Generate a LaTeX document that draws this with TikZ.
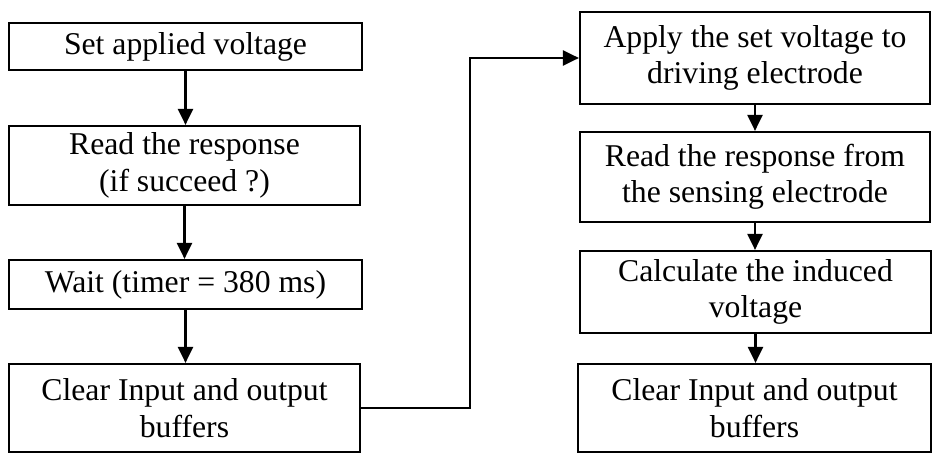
\documentclass[tikz,border=0pt]{standalone}
\usepackage{fontspec}
\setmainfont{Liberation Serif}
\usetikzlibrary{arrows.meta}
\begin{document}
\begin{tikzpicture}[x=1pt,y=-1pt,
  stepbox/.style={draw, line width=2.2pt, rectangle, align=center, inner sep=0pt,
    font=\fontsize{31.7}{36.5}\selectfont},
  flow/.style={line width=2.2pt, -{Triangle[length=16pt,width=15pt]}}]
\useasboundingbox (0,0) rectangle (932,454);
% left column
\node[stepbox, minimum width=353pt, minimum height=47pt] (l1) at (185.5,46.5) {Set applied voltage};
\node[stepbox, minimum width=351pt, minimum height=79pt] (l2) at (184.5,165.5) {Read the response\\(if succeed ?)};
\node[stepbox, minimum width=353pt, minimum height=49pt] (l3) at (185.5,284.5) {Wait (timer = 380 ms)};
\node[stepbox, minimum width=351pt, minimum height=88pt] (l4) at (184.5,408) {Clear Input and output\\buffers};
% right column
\node[stepbox, minimum width=350pt, minimum height=92pt] (r1) at (755,58) {Apply the set voltage to\\driving electrode};
\node[stepbox, minimum width=350pt, minimum height=90pt] (r2) at (755,177) {Read the response from\\the sensing electrode};
\node[stepbox, minimum width=351pt, minimum height=82pt] (r3) at (755.5,292) {Calculate the induced\\voltage};
\node[stepbox, minimum width=353pt, minimum height=88pt] (r4) at (754.5,408) {Clear Input and output\\buffers};
% vertical connectors, kept straight down from each box
\draw[flow] (l1.south) -- (l1.south |- l2.north);
\draw[flow] (l2.south) -- (l2.south |- l3.north);
\draw[flow] (l3.south) -- (l3.south |- l4.north);
\draw[flow] (r1.south) -- (r1.south |- r2.north);
\draw[flow] (r2.south) -- (r2.south |- r3.north);
\draw[flow] (r3.south) -- (r3.south |- r4.north);
% elbow link between the two columns
\coordinate (j1) at (470,408);
\coordinate (j2) at (470,58);
\draw[flow] (l4.east) -- (j1) -- (j2) -- (r1.west);
\end{tikzpicture}
\end{document}
